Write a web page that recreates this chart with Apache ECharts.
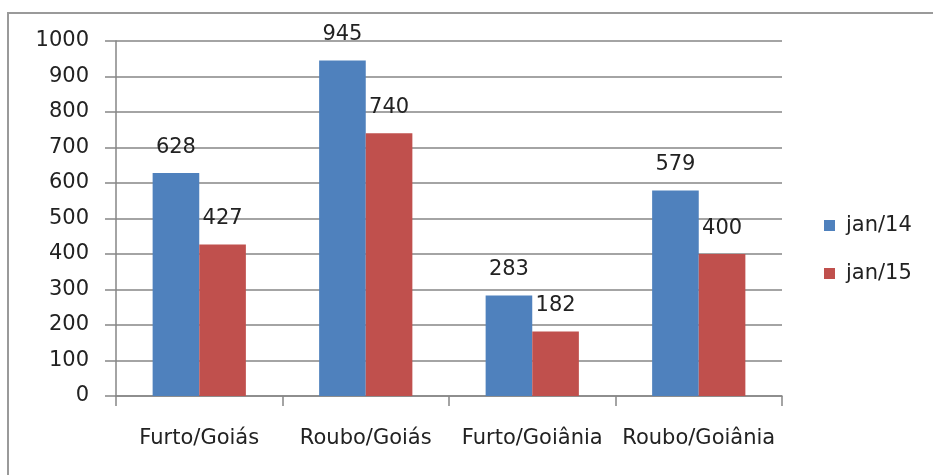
<!DOCTYPE html>
<html><head><meta charset="utf-8">
<script src="https://cdn.jsdelivr.net/npm/echarts@6/dist/echarts.min.js"></script>
<style>html,body{margin:0;padding:0;background:#fff}#c{width:933px;height:475px}</style>
</head><body><div id="c"></div>
<script>
const categories = ['Furto/Goiás', 'Roubo/Goiás', 'Furto/Goiânia', 'Roubo/Goiânia'];
const seriesNames = ['jan/14', 'jan/15'];
const jan14 = [628, 945, 283, 579];
const jan15 = [427, 740, 182, 400];
const yTicks = [0, 100, 200, 300, 400, 500, 600, 700, 800, 900, 1000];

const FONT = '"DejaVu Sans", Verdana, sans-serif';
const chart = echarts.init(document.getElementById('c'), null, {renderer: 'canvas'});
const lbl = {show: true, position: 'top', distance: 15, color: '#222', fontSize: 21, fontFamily: FONT};
chart.setOption({
  animation: false,
  backgroundColor: '#fff',
  graphic: [{type: 'polyline', shape: {points: [[8, 480], [8, 13], [940, 13]]},
    style: {fill: 'none', stroke: '#9a9a9a', lineWidth: 2}, z: 0}],
  grid: {left: 116, right: 151, top: 41, bottom: 79, containLabel: false},
  legend: {
    orient: 'vertical', left: 824, top: 215, padding: 0, itemWidth: 11, itemHeight: 11, itemGap: 27,
    icon: 'rect', data: seriesNames,
    textStyle: {fontSize: 21, fontFamily: FONT, color: '#222', padding: [0, 0, 0, 6]}
  },
  xAxis: {
    type: 'category', data: categories, boundaryGap: true,
    axisLine: {lineStyle: {color: '#868686', width: 1.5}},
    axisTick: {show: true, length: 10, lineStyle: {color: '#868686', width: 1.5}},
    axisLabel: {fontSize: 21, fontFamily: FONT, color: '#222', margin: 32, interval: 0}
  },
  yAxis: {
    type: 'value', min: yTicks[0], max: yTicks[yTicks.length - 1], interval: 100,
    axisLine: {show: true, lineStyle: {color: '#868686', width: 1.5}},
    axisTick: {show: true, length: 11, lineStyle: {color: '#868686', width: 1.5}},
    splitLine: {lineStyle: {color: '#868686', width: 1.5}},
    axisLabel: {fontSize: 21, fontFamily: FONT, color: '#222', margin: 27, formatter: v => String(v)}
  },
  series: [
    {name: seriesNames[0], type: 'bar', data: jan14, barGap: '0%', barCategoryGap: '44%',
     itemStyle: {color: '#4F81BD'}, label: lbl},
    {name: seriesNames[1], type: 'bar', data: jan15, barGap: '0%', barCategoryGap: '44%',
     itemStyle: {color: '#C0504D'}, label: lbl}
  ]
});
</script></body></html>
